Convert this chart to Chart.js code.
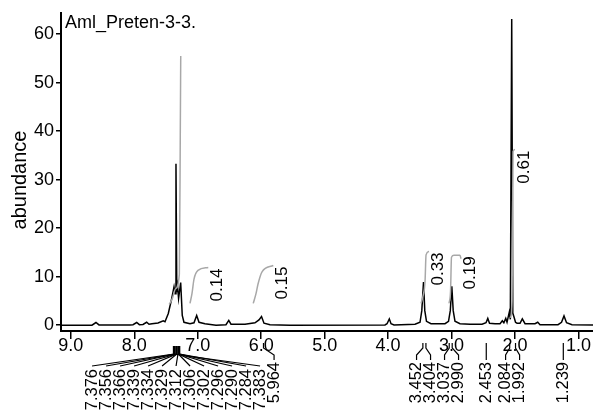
<!DOCTYPE html>
<html>
<head>
<meta charset="utf-8">
<script src="https://cdn.jsdelivr.net/npm/chart.js@4/dist/chart.umd.min.js"></script>
<style>
  html, body { margin: 0; padding: 0; background: #fff; }
  canvas { display: block; }
</style>
</head>
<body>
<canvas id="nmr" width="593" height="419"></canvas>
<script>
// chemical shift (ppm) and abundance
const shiftPpm = [
  9.15, 8.667, 8.604, 8.556, 8.068, 8.02, 7.962, 7.92, 7.863, 7.805,
  7.768, 7.721, 7.626, 7.543, 7.516, 7.464, 7.41, 7.374, 7.358, 7.343,
  7.33, 7.318, 7.302, 7.269, 7.244, 7.217, 7.122, 7.059, 7.017, 6.98,
  6.886, 6.712, 6.555, 6.511, 6.476, 6.255, 6.098, 6.035, 5.995, 5.956,
  5.861, 5.546, 4.049, 4.017, 3.981, 3.954, 3.907, 3.576, 3.497, 3.469,
  3.442, 3.422, 3.395, 3.324, 3.103, 3.048, 3.02, 2.996, 2.974, 2.946,
  2.867, 2.709, 2.52, 2.457, 2.429, 2.402, 2.315, 2.236, 2.2, 2.176,
  2.146, 2.126, 2.09, 2.074, 2.052, 2.035, 2.016, 1.992, 1.968, 1.921,
  1.885, 1.842, 1.685, 1.642, 1.606, 1.322, 1.267, 1.228, 1.188, 1.102,
  0.771
];
const abundance = [
  0.0, 0.0, 0.55, 0.05, 0.05, 0.1, 0.55, 0.1, 0.15, 0.6,
  0.2, 0.3, 0.45, 0.9, 0.7, 2.4, 5.5, 7.9, 6.5, 33.3,
  6.8, 8.0, 5.5, 8.8, 2.0, 0.6, 0.3, 0.5, 2.0, 0.6,
  0.3, 0.0, 0.1, 1.0, 0.2, 0.2, 0.5, 1.1, 1.8, 0.4,
  0.1, 0.0, 0.05, 0.3, 1.3, 0.3, 0.05, 0.2, 0.6, 3.0,
  8.9, 3.0, 0.8, 0.3, 0.3, 0.8, 3.0, 8.0, 3.0, 0.8,
  0.3, 0.2, 0.2, 0.5, 1.4, 0.4, 0.3, 0.3, 0.9, 0.5,
  1.4, 0.6, 2.7, 1.2, 63.1, 2.5, 1.7, 0.6, 0.4, 0.4,
  1.3, 0.3, 0.3, 0.6, 0.1, 0.1, 0.6, 1.9, 0.5, 0.1,
  0.05
];

// integral curves (grey)
const aromaticPpm = [7.45, 7.40, 7.35, 7.29, 7.275, 7.268];
const aromaticCurve = [4.3, 5.5, 7.5, 10.5, 40, 55.5];
const int014Ppm = [7.122, 7.091, 7.059, 6.996, 6.834];
const int014Curve = [4.5, 6.5, 9.5, 11.3, 11.9];
const int015Ppm = [6.125, 6.082, 6.05, 5.987, 5.809];
const int015Curve = [4.5, 6.5, 8.5, 11.0, 12.3];
const int033Ppm = [3.481, 3.45, 3.418, 3.402, 3.355];
const int033Curve = [4.5, 6.0, 9.0, 14.5, 15.2];
const int019Ppm = [3.040, 3.016, 3.001, 2.961, 2.867, 2.851];
const int019Curve = [4.5, 7.0, 14.0, 14.4, 14.4, 13.7];
const int061Ppm = [2.071, 2.047, 2.039, 2.031, 2.0];
const int061Curve = [1.5, 5.0, 20.0, 35.8, 36.2];
const integralLabels = ['', '0.14', '0.15', '0.33', '0.19', '0.61'];

// peak picking labels, in the order they are printed left to right
const peakLabels = [7.376, 7.356, 7.366, 7.339, 7.334, 7.329, 7.312, 7.306, 7.302,
  7.296, 7.290, 7.284, 7.383, 5.964, 3.452, 3.404, 3.037, 2.990, 2.453, 2.084, 1.992, 1.239];

const xTicks = [9, 8, 7, 6, 5, 4, 3, 2, 1];
const yTicks = [0, 10, 20, 30, 40, 50, 60];
const sampleName = 'Aml_Preten-3-3.';

const toPoints = (xs, ys) => xs.map((x, i) => ({ x: x, y: ys[i] }));

const FONT = 'Liberation Sans, Arial, sans-serif';
Chart.defaults.font.family = FONT;
Chart.defaults.color = '#000';

const GREY = '#a8a8a8';
const integralSet = (xs, ys) => ({
  data: toPoints(xs, ys),
  borderColor: GREY,
  borderWidth: 1.5,
  pointRadius: 0,
  cubicInterpolationMode: 'monotone',
  order: 1
});

const integrals = [
  [aromaticPpm, aromaticCurve], [int014Ppm, int014Curve], [int015Ppm, int015Curve],
  [int033Ppm, int033Curve], [int019Ppm, int019Curve], [int061Ppm, int061Curve]
];

// spread labels so they do not overlap, keeping groups centred on their peaks
const spreadLabels = (targets, gap) => {
  let groups = targets.map((t, i) => ({ n: 1, sum: t }));
  const first = g => g.sum / g.n - (g.n - 1) * gap / 2;
  let merged = true;
  while (merged) {
    merged = false;
    for (let i = 0; i < groups.length - 1; i++) {
      const a = groups[i], b = groups[i + 1];
      if (first(a) + a.n * gap > first(b)) {
        groups.splice(i, 2, { n: a.n + b.n, sum: a.sum + b.sum });
        merged = true;
        break;
      }
    }
  }
  const out = [];
  groups.forEach(g => { for (let k = 0; k < g.n; k++) out.push(first(g) + k * gap); });
  return out;
};

const vText = (ctx, text, x, topY) => {
  ctx.save();
  ctx.translate(x, topY);
  ctx.rotate(-Math.PI / 2);
  ctx.textAlign = 'right';
  ctx.textBaseline = 'middle';
  ctx.fillText(text, 0, 0);
  ctx.restore();
};

const annotations = {
  id: 'annotations',
  afterDraw(chart) {
    const ctx = chart.ctx;
    const xs = chart.scales.x, ys = chart.scales.y;
    ctx.save();
    ctx.fillStyle = '#000';

    // sample name
    ctx.font = '18px ' + FONT;
    ctx.textAlign = 'left';
    ctx.textBaseline = 'alphabetic';
    ctx.fillText(sampleName, 65, 28);

    // y axis title
    ctx.save();
    ctx.font = '20px ' + FONT;
    ctx.translate(25.5, 180);
    ctx.rotate(-Math.PI / 2);
    ctx.textAlign = 'center';
    ctx.fillText('abundance', 0, 0);
    ctx.restore();

    // integral values
    ctx.font = '17px ' + FONT;
    integrals.forEach(([px, py], i) => {
      if (!integralLabels[i]) return;
      const endX = xs.getPixelForValue(Math.min(...px));
      const topY = ys.getPixelForValue(Math.max(...py));
      vText(ctx, integralLabels[i], endX + 9, topY + 1);
    });

    // peak labels and their connectors
    const targets = peakLabels.map(p => xs.getPixelForValue(p));
    const placed = spreadLabels(targets, 14);
    ctx.strokeStyle = '#000';
    ctx.lineWidth = 1.2;
    ctx.font = '16.5px ' + FONT;
    const base = chart.chartArea.bottom;
    peakLabels.forEach((p, i) => {
      const tx = targets[i], lx = placed[i];
      const dense = targets.filter(t => Math.abs(t - tx) < 4).length >= 3;
      ctx.beginPath();
      let top;
      if (dense) {
        ctx.moveTo(tx, base + 15);
        ctx.lineTo(tx, base + 23);
        ctx.lineTo(lx, base + 35);
        top = base + 38;
      } else {
        ctx.moveTo(tx, base + 12);
        ctx.lineTo(tx, base + 17);
        ctx.lineTo(lx, base + 24);
        ctx.lineTo(lx, base + 29);
        top = base + 31;
      }
      ctx.stroke();
      vText(ctx, p.toFixed(3), lx, top);
    });
    ctx.restore();
  }
};

new Chart(document.getElementById('nmr'), {
  type: 'line',
  data: {
    datasets: [
      {
        data: toPoints(shiftPpm, abundance),
        borderColor: '#000',
        borderWidth: 1.5,
        pointRadius: 0,
        tension: 0,
        order: 2
      },
      ...integrals.map(([px, py]) => integralSet(px, py))
    ]
  },
  options: {
    responsive: false,
    animation: false,
    devicePixelRatio: 1,
    layout: { padding: { top: 12, left: 0, right: 0, bottom: 0 } },
    plugins: { legend: { display: false }, tooltip: { enabled: false } },
    scales: {
      x: {
        type: 'linear',
        reverse: true,
        min: 0.771,
        max: 9.155,
        afterFit: s => { s.height = 88; },
        afterBuildTicks: s => { s.ticks = xTicks.map(v => ({ value: v })); },
        border: { display: true, color: '#000', width: 2 },
        grid: { drawOnChartArea: false, drawTicks: true, tickLength: 8, color: '#000', lineWidth: 1.5 },
        ticks: {
          font: { size: 18 },
          color: '#000',
          padding: -4,
          maxRotation: 0,
          autoSkip: false,
          callback: v => Number(v).toFixed(1)
        }
      },
      y: {
        min: -1.2,
        max: 64.4,
        afterFit: s => { s.width = 61; },
        afterBuildTicks: s => { s.ticks = yTicks.map(v => ({ value: v })); },
        border: { display: true, color: '#000', width: 2 },
        grid: { drawOnChartArea: false, drawTicks: true, tickLength: 5, color: '#000', lineWidth: 1.5 },
        ticks: {
          font: { size: 18 },
          color: '#000',
          padding: 2,
          callback: v => v
        }
      }
    }
  },
  plugins: [annotations]
});
</script>
</body>
</html>
